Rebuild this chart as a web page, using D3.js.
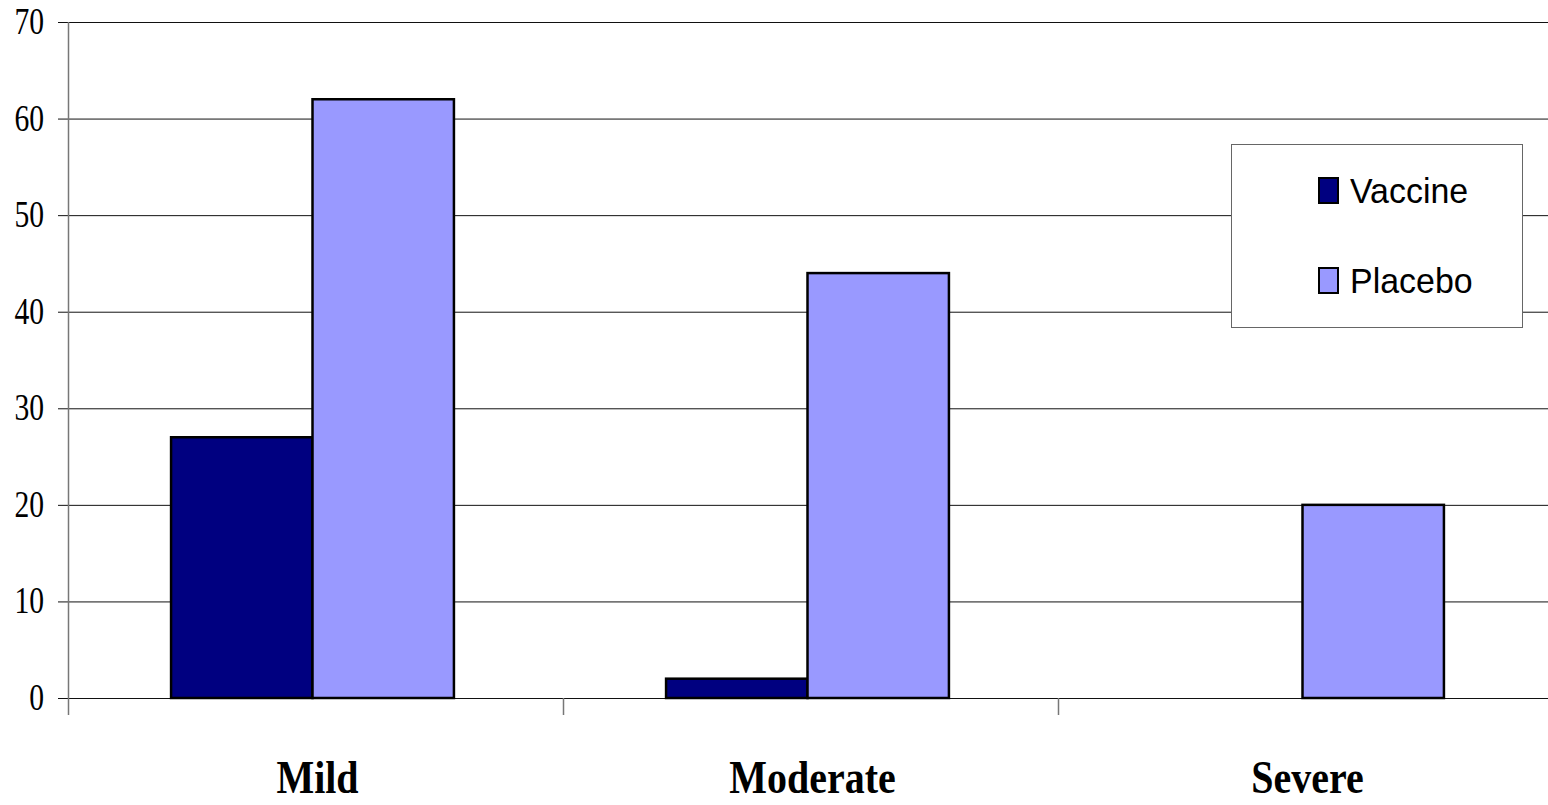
<!DOCTYPE html>
<html>
<head>
<meta charset="utf-8">
<script src="https://cdn.jsdelivr.net/npm/d3@7"></script>
<style>
	html, body { margin: 0; padding: 0; background: #fff; }
	svg { display: block; }
	.tick-label { font-family: "Liberation Serif", "Times New Roman", serif; font-size: 37px; fill: #000; }
	.cat-label { font-family: "Liberation Serif", "Times New Roman", serif; font-size: 47px; font-weight: bold; fill: #000; }
	.legend-text { font-family: "Liberation Sans", Arial, sans-serif; font-size: 35px; fill: #000; }
</style>
</head>
<body>
<svg id="chart"></svg>
<script>
const width = 1548;
const height = 805;

// data
const categories = ["Mild", "Moderate", "Severe"];
const seriesNames = ["Vaccine", "Placebo"];
const vaccineValues = [27, 2, 0];
const placeboValues = [62, 44, 20];
const yTicks = [0, 10, 20, 30, 40, 50, 60, 70];
const seriesColors = ["#000080", "#9999FF"];

const plot = { left: 68, right: 1553, top: 22, bottom: 698 };

const svg = d3.select("#chart")
	.attr("width", width)
	.attr("height", height);

const x0 = d3.scaleBand()
	.domain(categories)
	.range([plot.left, plot.right])
	.padding(0);

const x1 = d3.scaleBand()
	.domain(seriesNames)
	.range([-3, x0.bandwidth() - 3])
	.paddingInner(0)
	.paddingOuter(0.75);

const y = d3.scaleLinear()
	.domain([0, 70])
	.range([plot.bottom, plot.top]);

const color = d3.scaleOrdinal()
	.domain(seriesNames)
	.range(seriesColors);

// gridlines + y labels
const grid = svg.append("g");
grid.selectAll("line")
	.data(yTicks)
	.enter()
	.append("line")
	.attr("x1", plot.left - 10)
	.attr("x2", width)
	.attr("y1", (d) => y(d) + 0.5)
	.attr("y2", (d) => y(d) + 0.5)
	.attr("stroke", "#111")
	.attr("stroke-width", 1);

grid.selectAll("text")
	.data(yTicks)
	.enter()
	.append("text")
	.attr("class", "tick-label")
	.attr("transform", (d) => `translate(44, ${y(d) + 12}) scale(0.8, 1)`)
	.attr("text-anchor", "end")
	.text((d) => d);

// y axis line
svg.append("line")
	.attr("x1", plot.left + 0.5)
	.attr("x2", plot.left + 0.5)
	.attr("y1", plot.top)
	.attr("y2", plot.bottom + 17)
	.attr("stroke", "#777")
	.attr("stroke-width", 1.5);

// category separators
svg.append("g")
	.selectAll("line")
	.data(categories.slice(1))
	.enter()
	.append("line")
	.attr("x1", (d) => x0(d) + 0.5)
	.attr("x2", (d) => x0(d) + 0.5)
	.attr("y1", plot.bottom)
	.attr("y2", plot.bottom + 17)
	.attr("stroke", "#777")
	.attr("stroke-width", 1.5);

// legend box (drawn over gridlines)
const legend = svg.append("g")
	.attr("transform", "translate(1231, 144)");

legend.append("rect")
	.attr("x", 0.5)
	.attr("y", 0.5)
	.attr("width", 291)
	.attr("height", 183)
	.attr("fill", "#fff")
	.attr("stroke", "#666")
	.attr("stroke-width", 1);

const legendItems = legend.selectAll("g.item")
	.data(seriesNames)
	.enter()
	.append("g")
	.attr("class", "item")
	.attr("transform", (d, i) => `translate(88, ${34 + i * 90})`);

legendItems.append("rect")
	.attr("width", 19)
	.attr("height", 25)
	.attr("fill", (d) => color(d))
	.attr("stroke", "#000")
	.attr("stroke-width", 2);

legendItems.append("text")
	.attr("class", "legend-text")
	.attr("transform", "translate(31, 25) scale(0.97, 1)")
	.text((d) => d);

// bars
const rows = categories.map((c, i) => ({
	category: c,
	values: [
		{ series: seriesNames[0], value: vaccineValues[i] },
		{ series: seriesNames[1], value: placeboValues[i] }
	]
}));

const groups = svg.append("g")
	.selectAll("g")
	.data(rows)
	.enter()
	.append("g")
	.attr("transform", (d) => `translate(${x0(d.category)}, 0)`);

groups.selectAll("rect")
	.data((d) => d.values.filter((v) => v.value > 0))
	.enter()
	.append("rect")
	.attr("x", (d) => x1(d.series))
	.attr("y", (d) => y(d.value))
	.attr("width", x1.bandwidth())
	.attr("height", (d) => y(0) - y(d.value))
	.attr("fill", (d) => color(d.series))
	.attr("stroke", "#000")
	.attr("stroke-width", 2.5);

// category labels
svg.append("g")
	.selectAll("text")
	.data(categories)
	.enter()
	.append("text")
	.attr("class", "cat-label")
	.attr("transform", (d) => `translate(${x0(d) + x0.bandwidth() / 2 + 2}, 793) scale(0.85, 1)`)
	.attr("text-anchor", "middle")
	.text((d) => d);
</script>
</body>
</html>
